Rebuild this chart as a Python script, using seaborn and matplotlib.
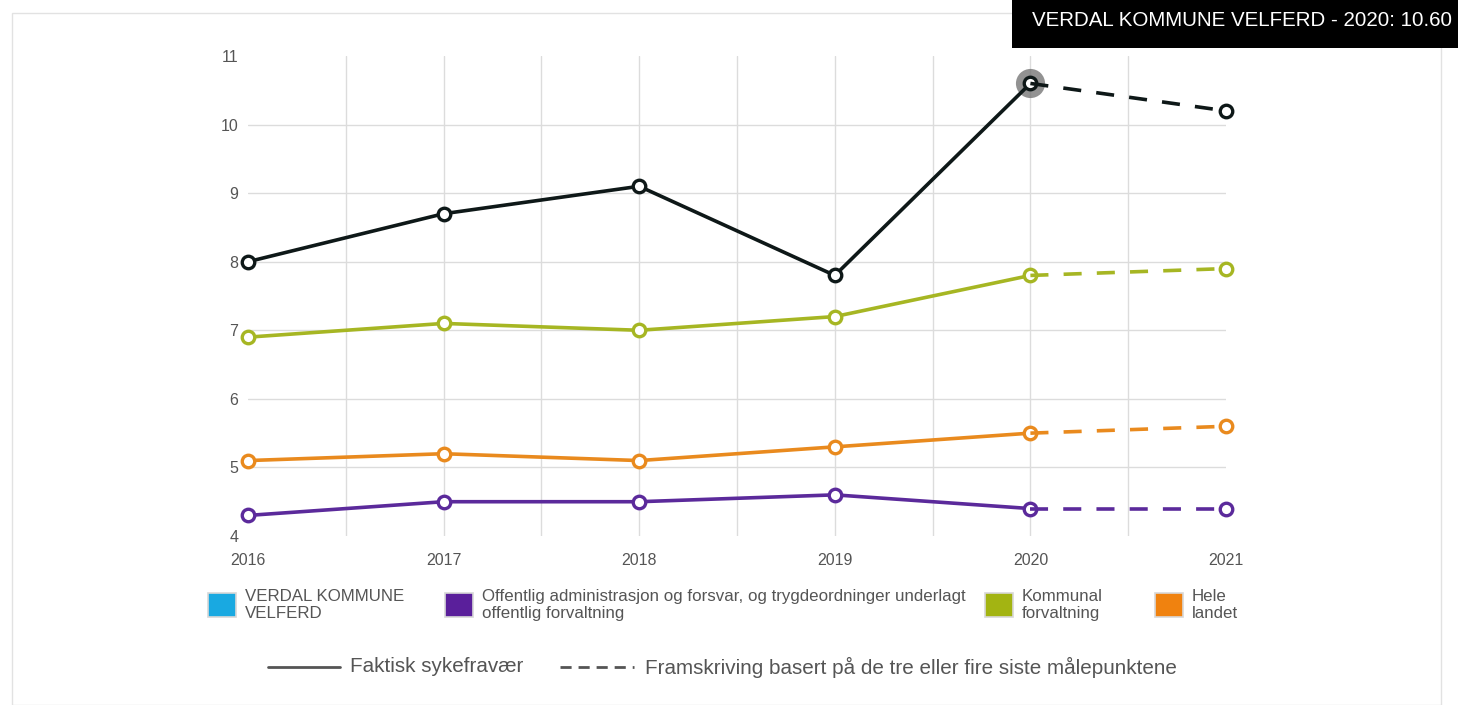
import matplotlib
matplotlib.use("Agg")
import matplotlib.pyplot as plt
import seaborn as sns
import pandas as pd
from matplotlib.patches import Rectangle
from matplotlib.lines import Line2D

years = [2016, 2017, 2018, 2019, 2020]
forecast_year = 2021

verdal = [8.0, 8.7, 9.1, 7.8, 10.6]
verdal_fc = 10.2
kommunal = [6.9, 7.1, 7.0, 7.2, 7.8]
kommunal_fc = 7.9
hele = [5.1, 5.2, 5.1, 5.3, 5.5]
hele_fc = 5.6
offentlig = [4.3, 4.5, 4.5, 4.6, 4.4]
offentlig_fc = 4.4

legend_labels = ["VERDAL KOMMUNE\nVELFERD",
                 "Offentlig administrasjon og forsvar, og trygdeordninger underlagt\noffentlig forvaltning",
                 "Kommunal\nforvaltning",
                 "Hele\nlandet"]
legend_colors = ["#19a9e1", "#5a1f9b", "#a3b412", "#f0820f"]
tooltip = "VERDAL KOMMUNE VELFERD - 2020: 10.60"

sns.set_theme(style="white")
plt.rcParams['font.family'] = ['Liberation Sans', 'DejaVu Sans']

W, H = 1458, 705
fig = plt.figure(figsize=(W / 100, H / 100), dpi=100)
ax = fig.add_axes([248 / W, 1 - 536 / H, (1226 - 248) / W, (536 - 56) / H])

series = [
    (offentlig, offentlig_fc, "#5b2a9b"),
    (hele, hele_fc, "#e98a1e"),
    (kommunal, kommunal_fc, "#a6b623"),
    (verdal, verdal_fc, "#0e1818"),
]

# halo on highlighted point
ax.scatter([years[-1]], [verdal[-1]], s=440, color="#6e6e6e", alpha=0.75, zorder=3,
           linewidths=0, clip_on=False)

for vals, fc, col in series:
    df = pd.DataFrame({"year": years, "value": vals})
    sns.lineplot(data=df, x="year", y="value", ax=ax, color=col, linewidth=2.6,
                 marker="o", markersize=9, markerfacecolor="white",
                 markeredgecolor=col, markeredgewidth=2.4, zorder=4, clip_on=False)
    dff = pd.DataFrame({"year": [years[-1], forecast_year], "value": [vals[-1], fc]})
    sns.lineplot(data=dff, x="year", y="value", ax=ax, color=col, linewidth=2.6,
                 linestyle=(0, (5, 4.2)), zorder=4, clip_on=False)
    ax.plot([forecast_year], [fc], marker="o", markersize=9, markerfacecolor="white",
            markeredgecolor=col, markeredgewidth=2.4, linestyle="none", zorder=5, clip_on=False)

ax.set_xlim(2016, 2021)
ax.set_ylim(4, 11)
ax.set_xlabel("")
ax.set_ylabel("")
ax.set_xticks([2016, 2017, 2018, 2019, 2020, 2021])
ax.set_xticklabels([str(y) for y in [2016, 2017, 2018, 2019, 2020, 2021]])
ax.set_yticks([4, 5, 6, 7, 8, 9, 10, 11])
ax.tick_params(axis="both", which="both", length=0, labelsize=11.5, labelcolor="#555555")
ax.tick_params(axis="x", pad=12)
ax.tick_params(axis="y", pad=7)
for s in ax.spines.values():
    s.set_visible(False)
for y in [5, 6, 7, 8, 9, 10]:
    ax.axhline(y, color="#dcdcdc", linewidth=1, zorder=0)
for x in [2016.5 + i * 0.5 for i in range(9)]:
    ax.axvline(x, color="#dcdcdc", linewidth=1, zorder=0)

# outer frame
fig.add_artist(Rectangle((12 / W, 0), (1441 - 12) / W, 1 - 13 / H, transform=fig.transFigure,
                         fill=False, edgecolor="#e2e2e2", linewidth=1))

# category legend
box_x = [208, 445, 985, 1155]
for bx, lab, col in zip(box_x, legend_labels, legend_colors):
    fig.add_artist(Rectangle((bx / W, 1 - 617 / H), 28 / W, 24 / H, transform=fig.transFigure,
                             facecolor=col, edgecolor="#d8d8d8", linewidth=1.2))
    fig.text((bx + 37) / W, 1 - 605 / H, lab, fontsize=12.2, color="#555555",
             va="center", ha="left", linespacing=1.12)

# line style legend
fig.add_artist(Line2D([268 / W, 340 / W], [1 - 667 / H] * 2, transform=fig.transFigure,
                      color="#555555", linewidth=2))
fig.text(350 / W, 1 - 667 / H, "Faktisk sykefravær", fontsize=14.9, color="#555555", va="center")
fig.add_artist(Line2D([560 / W, 634 / W], [1 - 667 / H] * 2, transform=fig.transFigure,
                      color="#555555", linewidth=2, linestyle=(0, (4, 2.5))))
fig.text(645 / W, 1 - 667 / H, "Framskriving basert på de tre eller fire siste målepunktene",
         fontsize=14.9, color="#555555", va="center")

# tooltip
fig.add_artist(Rectangle((1012 / W, 1 - 48 / H), (W - 1012) / W, 48 / H, transform=fig.transFigure,
                         facecolor="black", edgecolor="none"))
fig.text(1452 / W, 1 - 20 / H, tooltip, fontsize=14.8, color="white", ha="right", va="center")

fig.savefig("out.png", dpi=100, facecolor="white")
